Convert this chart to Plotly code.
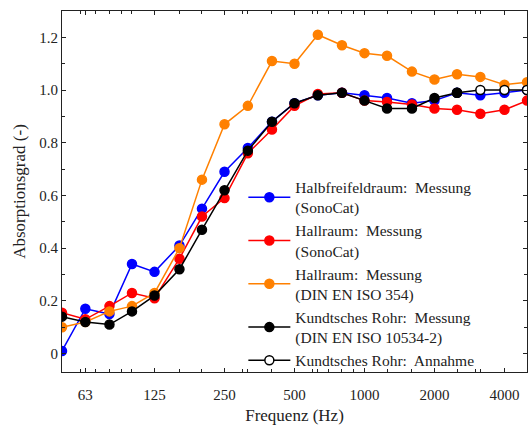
import plotly.graph_objects as go
import math

freqs = [50, 63, 80, 100, 125, 160, 200, 250, 315, 400, 500, 630, 800,
         1000, 1250, 1600, 2000, 2500, 3150, 4000, 5000]

halbfrei_sonocat = [0.01, 0.17, 0.15, 0.34, 0.31, 0.41, 0.55, 0.69, 0.78, 0.88, 0.95,
                    0.98, 0.99, 0.98, 0.97, 0.95, 0.96, 0.99, 0.98, 0.99, 1.00]
hallraum_sonocat = [0.155, 0.13, 0.18, 0.23, 0.21, 0.36, 0.52, 0.59, 0.76, 0.85, 0.94,
                    0.985, 0.99, 0.96, 0.955, 0.945, 0.93, 0.925, 0.91, 0.925, 0.96]
hallraum_din = [0.10, 0.12, 0.16, 0.18, 0.23, 0.40, 0.66, 0.87, 0.94, 1.11, 1.10,
                1.21, 1.17, 1.14, 1.13, 1.07, 1.04, 1.06, 1.05, 1.02, 1.03]
kundt_freqs = [50, 63, 80, 100, 125, 160, 200, 250, 315, 400, 500, 630, 800,
               1000, 1250, 1600, 2000, 2500]
kundt_messung = [0.14, 0.12, 0.11, 0.16, 0.22, 0.32, 0.47, 0.62, 0.77, 0.88, 0.95,
                 0.98, 0.99, 0.96, 0.93, 0.93, 0.97, 0.99]
annahme_freqs = [2500, 3150, 4000, 5000]
kundt_annahme = [0.99, 1.00, 1.00, 1.00]

major_ticks = [63, 125, 250, 500, 1000, 2000, 4000]
major_labels = ["63", "125", "250", "500", "1000", "2000", "4000"]
minor_ticks = [60, 70, 80, 90, 100, 160, 200, 300, 315, 400, 600, 630, 700, 800, 900,
               1250, 1600, 2500, 3000, 3150, 5000]
y_ticks = [0, 0.2, 0.4, 0.6, 0.8, 1.0, 1.2]
y_labels = ["0", "0.2", "0.4", "0.6", "0.8", "1.0", "1.2"]

FONT = "Liberation Serif"
TXT = "#222222"

fig = go.Figure()

def add(x, y, name, color, fill, rank):
    fig.add_trace(go.Scatter(
        x=x, y=y, name=name, mode="lines+markers",
        line=dict(color=color, width=1.5),
        marker=dict(size=9, color=fill, line=dict(color=color, width=1.5)),
        legendrank=rank,
    ))

add(freqs, halbfrei_sonocat, "Halbfreifeldraum:  Messung<br>(SonoCat)", "#0000FF", "#0000FF", 1)
add(freqs, hallraum_sonocat, "Hallraum:  Messung<br>(SonoCat)", "#FF0000", "#FF0000", 2)
add(freqs, hallraum_din, "Hallraum:  Messung<br>(DIN EN ISO 354)", "#FF8000", "#FF8000", 3)
add(annahme_freqs, kundt_annahme, "Kundtsches Rohr:  Annahme", "#000000", "#FFFFFF", 5)
add(kundt_freqs, kundt_messung, "Kundtsches Rohr:  Messung<br>(DIN EN ISO 10534-2)", "#000000", "#000000", 4)

axis_common = dict(
    showline=True, linecolor="#222222", linewidth=1, mirror="allticks",
    ticks="inside", ticklen=4, tickcolor="#222222", showgrid=False, zeroline=False,
    tickfont=dict(family=FONT, size=15, color=TXT), automargin=False,
)

fig.update_xaxes(
    type="log", range=[math.log10(50), math.log10(5000)],
    tickmode="array", tickvals=major_ticks, ticktext=major_labels,
    ticklabelstandoff=9,
    title=dict(text="Frequenz (Hz)", font=dict(family=FONT, size=17, color=TXT), standoff=10),
    minor=dict(tickmode="array", tickvals=minor_ticks, ticks="inside", ticklen=3,
               tickcolor="#222222", showgrid=False),
    **axis_common,
)
fig.update_yaxes(
    range=[-0.07, 1.3],
    tickmode="array", tickvals=y_ticks, ticktext=y_labels,
    title=dict(text="Absorptionsgrad (-)", font=dict(family=FONT, size=17, color=TXT), standoff=9),
    minor=dict(dtick=0.1, ticks="inside", ticklen=3, tickcolor="#222222", showgrid=False),
    **axis_common,
)

fig.update_layout(
    width=528, height=425,
    margin=dict(l=61.5, r=0.5, t=11, b=53.3),
    paper_bgcolor="white", plot_bgcolor="white",
    font=dict(family=FONT, color=TXT),
    legend=dict(x=0.39, y=0.558, xanchor="left", yanchor="top",
                font=dict(family=FONT, size=15.5, color=TXT),
                bgcolor="rgba(255,255,255,0)", itemwidth=42, tracegroupgap=0),
    showlegend=True,
)

fig.write_html("out.html",
               config={"displayModeBar": False},
               post_script="document.body.style.margin='0px';document.body.style.overflow='hidden';")
